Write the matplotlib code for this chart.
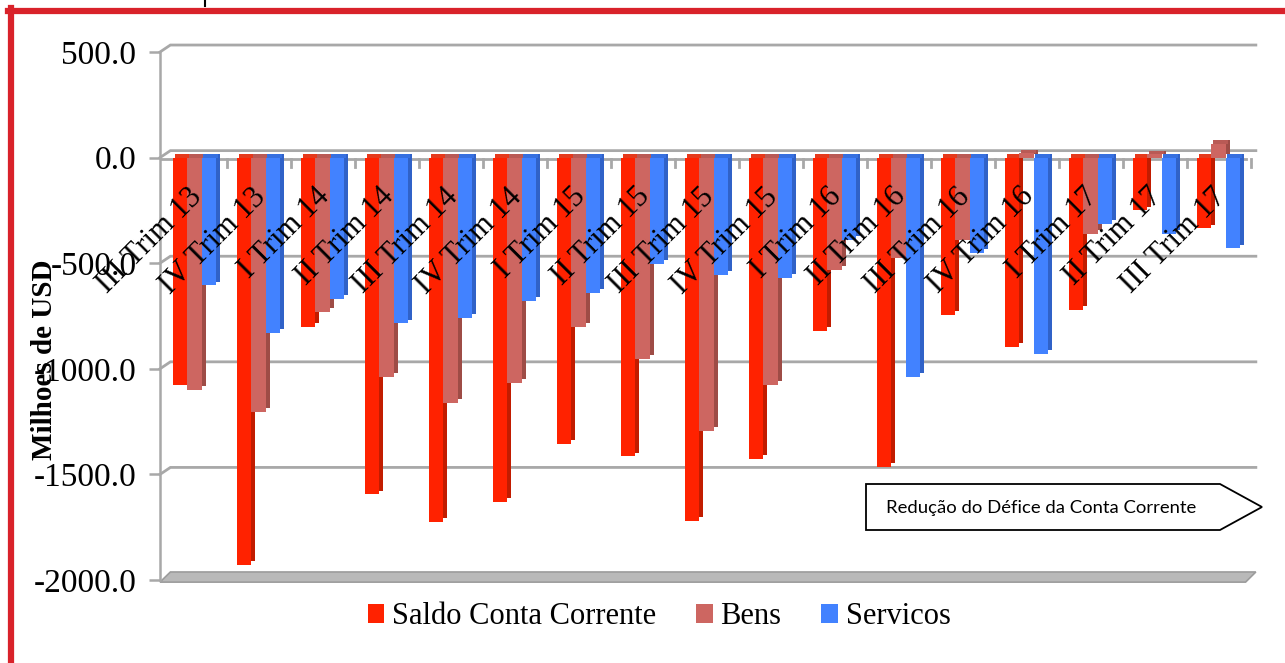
import numpy as np
import matplotlib
matplotlib.use('Agg')
import matplotlib.pyplot as plt
from matplotlib.patches import Polygon
from matplotlib.lines import Line2D

categories = ['III Trim 13', 'IV Trim 13', 'I Trim 14', 'II Trim 14', 'III Trim 14', 'IV Trim 14',
              'I Trim 15', 'II Trim 15', 'III Trim 15', 'IV Trim 15', 'I Trim 16', 'II Trim 16',
              'III Trim 16', 'IV Trim 16', 'I Trim 17', 'II Trim 17', 'III Trim 17']
saldo = [-1075, -1930, -800, -1595, -1725, -1630, -1355, -1415, -1720, -1425,
         -820, -1465, -745, -895, -720, -250, -335]
bens = [-1100, -1205, -730, -1040, -1160, -1065, -800, -955, -1295, -1075,
        -530, -475, -390, 20, -360, 15, 65]
servicos = [-605, -830, -670, -785, -760, -680, -640, -505, -555, -570,
            -390, -1040, -450, -930, -315, -360, -430]
yticks = [500, 0, -500, -1000, -1500, -2000]

serif = 'Liberation Serif'
grid_c = '#a8a8a8'

fig = plt.figure(figsize=(12.85, 6.63), dpi=100)
W, H = 1285, 663
ax = fig.add_axes([160 / W, 1 - 580 / H, 1100 / W, 528 / H])
ax.set_xlim(-0.5625, 16.625)
ax.set_ylim(-2000, 500)

x = np.arange(len(categories))
w = 0.227     # front face width
dx = 0.06     # depth (x units)
dy = 18       # depth (value units)

# back wall gridlines, slightly offset to fake the 3D wall
for v in yticks[:-1]:
    ax.plot([-0.5625, -0.40, 16.56], [v, v + 33, v + 33], color=grid_c, lw=2,
            zorder=0, clip_on=False, solid_joinstyle='miter')

# floor slab
floor = Polygon([(-0.5625, -2010), (-0.40, -1962), (16.56, -1962), (16.40, -2010)],
                closed=True, facecolor='#b9b9b9', edgecolor='#9c9c9c', lw=1.2,
                zorder=0.5, clip_on=False)
ax.add_patch(floor)

# category axis at zero with small ticks between groups
ax.plot([-0.5625, 16.4], [-8, -8], color=grid_c, lw=2, zorder=0.6)
for i in x:
    ax.plot([i + 0.48, i + 0.48], [-8, -45], color=grid_c, lw=2, zorder=0.6)

series = [
    (saldo, -0.25, '#ff2200', '#c21c00', '#e53a1c', 'Saldo Conta Corrente'),
    (bens, -0.025, '#cd6661', '#9e4c46', '#b95a55', 'Bens'),
    (servicos, 0.20, '#4282ff', '#3062c8', '#3670e0', 'Servicos'),
]
handles = []
for vals, off, face, side, top, name in series:
    vals = np.array(vals, dtype=float)
    ax.bar(x + off + w / 2 + dx / 2, vals, width=dx, bottom=dy, color=side, lw=0, zorder=2)
    ax.bar(x + off + dx / 2, dy, width=w, bottom=np.maximum(vals, 0), color=top, lw=0, zorder=2)
    b = ax.bar(x + off, vals, width=w, color=face, lw=0, zorder=2, label=name)
    handles.append(b)

# category labels, rotated, sitting inside the plot like the original
for i, lab in zip(x, categories):
    ax.text(i + 0.02, -165, lab, rotation=45, rotation_mode='anchor', ha='right', va='center',
            fontsize=22, family=serif, zorder=5)

ax.set_xticks([])
ax.set_yticks(yticks)
ax.set_yticklabels(['%.1f' % v for v in yticks], fontsize=24, family=serif)
ax.tick_params(axis='y', length=8, width=1.8, color=grid_c, pad=9)
for s in ['top', 'right', 'bottom']:
    ax.spines[s].set_visible(False)
ax.spines['left'].set_color(grid_c)
ax.spines['left'].set_linewidth(1.8)
ax.patch.set_alpha(0)

fig.text(44 / W, 1 - 360 / H, 'Milhoes de USD', rotation=90, ha='center', va='center',
         fontsize=21, fontweight='bold', family=serif)

fig.legend(handles=handles, loc='center', bbox_to_anchor=(659 / W, 1 - 617 / H), ncol=3,
           frameon=False, handlelength=0.55, handleheight=0.55, handletextpad=0.25,
           columnspacing=1.3, prop={'family': serif, 'size': 22})

# arrow-shaped note box
pts = [(866, 484), (1220, 484), (1262, 507), (1220, 530), (866, 530)]
note = Polygon([(px / W, 1 - py / H) for px, py in pts], closed=True, transform=fig.transFigure,
               facecolor='white', edgecolor='black', lw=1.3)
fig.patches.append(note)
fig.text(886 / W, 1 - 508 / H, 'Redução do Défice da Conta Corrente', ha='left', va='center',
         fontsize=13.3, family='Lato')

# red frame and leftover mark at the top
red = '#d9222a'
fig.lines.append(Line2D([8 / W, 1], [1 - 11 / H, 1 - 11 / H], color=red, lw=4.5,
                        transform=fig.transFigure))
fig.lines.append(Line2D([11 / W, 11 / W], [0, 1 - 8 / H], color=red, lw=4.5,
                        transform=fig.transFigure))
fig.lines.append(Line2D([205 / W, 205 / W], [1, 1 - 6 / H], color='black', lw=1.5,
                        transform=fig.transFigure))

fig.savefig('out.png', dpi=100, facecolor='white')
